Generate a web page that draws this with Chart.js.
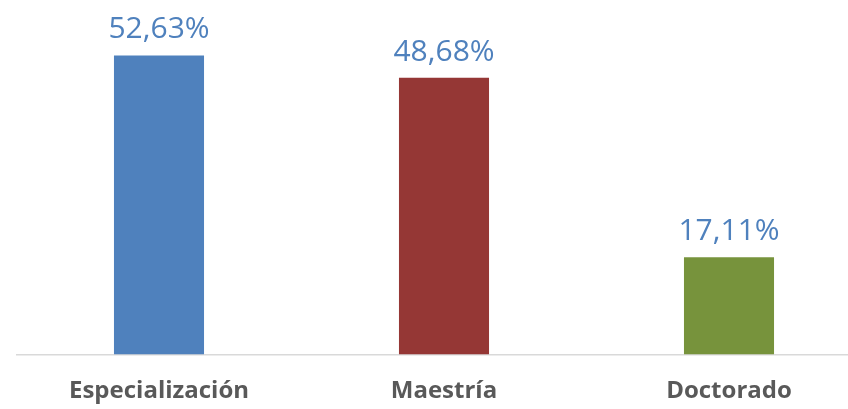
<!DOCTYPE html>
<html>
<head>
<meta charset="utf-8">
<script src="https://cdn.jsdelivr.net/npm/chart.js@4"></script>
<style>
  html, body { margin: 0; padding: 0; background: #ffffff; overflow: hidden; }
  #wrap { width: 880px; height: 409px; }
</style>
</head>
<body>
<div id="wrap"><canvas id="nivelChart"></canvas></div>
<script>
'use strict';
let categorias = ['Especialización', 'Maestría', 'Doctorado'];
let porcentajes = [52.63, 48.68, 17.11];
let colores = ['#4f81bd', '#953735', '#77933c'];

// etiquetas de valor encima de cada barra
const valueLabels = {
    id: 'valueLabels',
    afterDatasetsDraw(chart) {
        const ctx = chart.ctx;
        const meta = chart.getDatasetMeta(0);
        ctx.save();
        ctx.font = "30px 'Open Sans', sans-serif";
        ctx.fillStyle = '#4f81bd';
        ctx.textAlign = 'center';
        ctx.textBaseline = 'alphabetic';
        meta.data.forEach((bar, i) => {
            const txt = porcentajes[i].toFixed(2).replace('.', ',') + '%';
            ctx.fillText(txt, bar.x, bar.y - 17);
        });
        ctx.restore();
    }
};

let ctxNivel = document.getElementById('nivelChart').getContext('2d');
let nivelChart = new Chart(ctxNivel, {
    type: 'bar',
    data: {
        labels: categorias,
        datasets: [{
            data: porcentajes,
            backgroundColor: colores,
            barPercentage: 0.316,
            categoryPercentage: 1.0,
        }]
    },
    options: {
        maintainAspectRatio: false,
        responsive: true,
        animation: false,
        layout: {
            padding: { left: 16.5, right: 8.5, top: 13.5, bottom: 0 }
        },
        scales: {
            x: {
                grid: { display: false, drawTicks: false },
                border: { display: true, color: '#d9d9d9', width: 1.5 },
                ticks: {
                    color: '#595959',
                    padding: 22,
                    font: { family: "'Open Sans', sans-serif", size: 24, weight: 'bold' }
                },
                afterFit: scale => { scale.height = 54.5; }
            },
            y: {
                display: false,
                min: 0,
                max: 60
            }
        },
        plugins: {
            legend: { display: false },
            tooltip: { enabled: false },
            title: { display: false }
        }
    },
    plugins: [valueLabels]
});
</script>
</body>
</html>
